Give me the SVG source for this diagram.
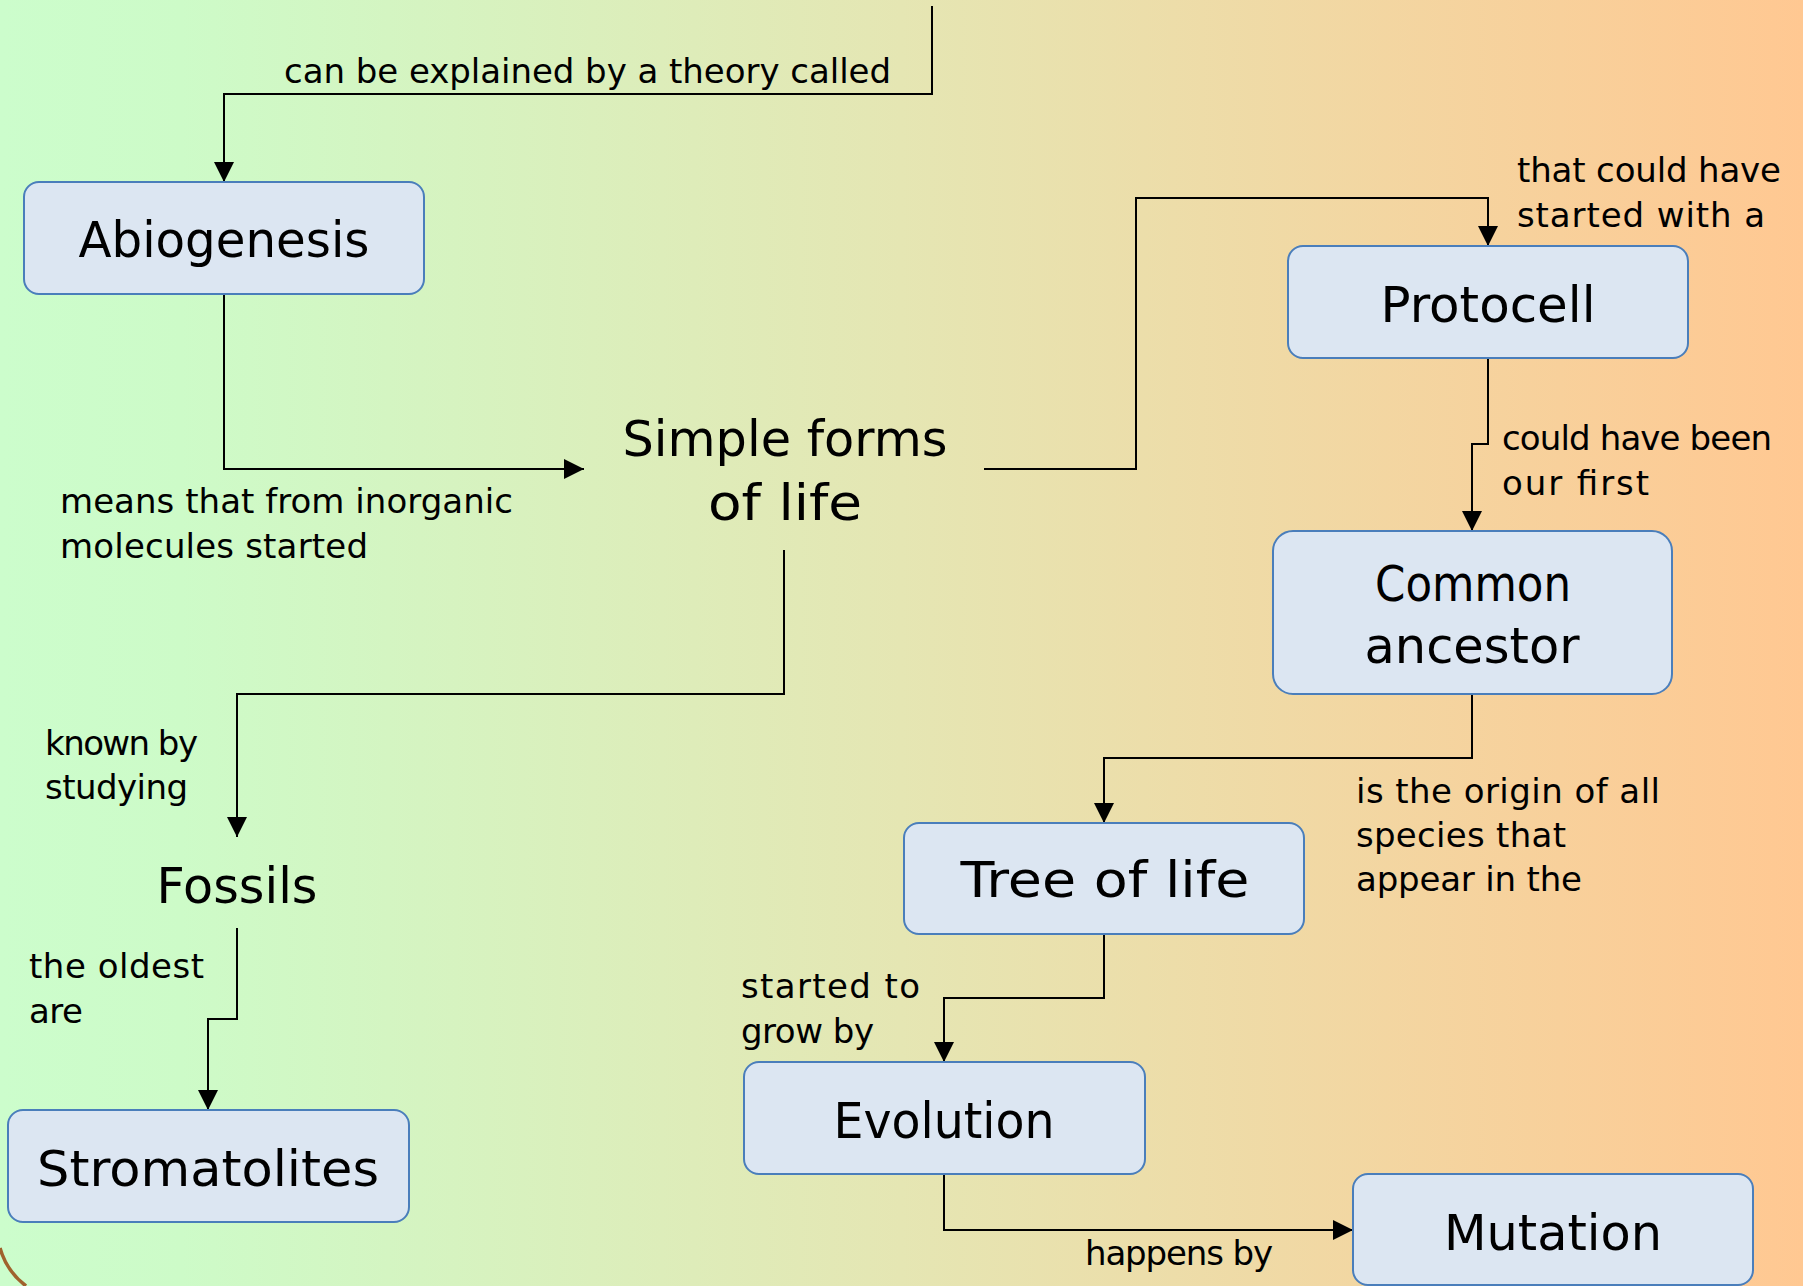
<svg xmlns="http://www.w3.org/2000/svg" width="1803" height="1286" viewBox="0 0 1803 1286">
  <defs>
    <linearGradient id="bg" x1="0" y1="0" x2="1" y2="0">
      <stop offset="0" stop-color="#ccfdcc"/>
      <stop offset="0.1" stop-color="#cdfbc8"/>
      <stop offset="0.5" stop-color="#e5e6b3"/>
      <stop offset="1" stop-color="#ffc892"/>
    </linearGradient>
    <marker id="arr" markerUnits="userSpaceOnUse" markerWidth="20" markerHeight="20" refX="20" refY="10" orient="auto">
      <path d="M0,0 L20,10 L0,20 z" fill="#000"/>
    </marker>
    <style>
      .box { fill: #dce6f2; stroke: #4a7ebb; stroke-width: 2; }
      .nt { font-family: "DejaVu Sans", "Liberation Sans", sans-serif; font-size: 50px; fill: #000; text-anchor: middle; }
      .lb { font-family: "DejaVu Sans", "Liberation Sans", sans-serif; font-size: 34px; fill: #000; }
      .cn { fill: none; stroke: #000; stroke-width: 2; marker-end: url(#arr); }
    </style>
  </defs>
  <rect x="0" y="0" width="1803" height="1286" fill="url(#bg)"/>
  <path d="M0,1248 A 72 72 0 0 0 26 1286" fill="none" stroke="#a0622d" stroke-width="3.5"/>

  <g id="connectors">
    <path class="cn" d="M932,6 V94 H224 V182"/>
    <path class="cn" d="M224,294 V469 H584"/>
    <path class="cn" d="M984,469 H1136 V198 H1488 V246"/>
    <path class="cn" d="M1488,358 V444 H1472 V531"/>
    <path class="cn" d="M1472,694 V758 H1104 V823"/>
    <path class="cn" d="M784,550 V694 H237 V837"/>
    <path class="cn" d="M237,928 V1019 H208 V1110"/>
    <path class="cn" d="M1104,934 V998 H944 V1062"/>
    <path class="cn" d="M944,1174 V1230 H1353"/>
    <text class="lb" x="284" y="83" textLength="607">can be explained by a theory called</text>
    <text class="lb" x="60" y="513" textLength="453">means that from inorganic</text>
    <text class="lb" x="60" y="558" textLength="308">molecules started</text>
    <text class="lb" x="1517" y="182" textLength="264">that could have</text>
    <text class="lb" x="1517" y="227" textLength="248">started with a</text>
    <text class="lb" x="1502" y="450" textLength="270">could have been</text>
    <text class="lb" x="1502" y="495" textLength="147">our first</text>
    <text class="lb" x="1356" y="803" textLength="304">is the origin of all</text>
    <text class="lb" x="1356" y="847" textLength="210">species that</text>
    <text class="lb" x="1356" y="891" textLength="226">appear in the</text>
    <text class="lb" x="45" y="755" textLength="153">known by</text>
    <text class="lb" x="45" y="799" textLength="143">studying</text>
    <text class="lb" x="29" y="978" textLength="175">the oldest</text>
    <text class="lb" x="29" y="1023" textLength="54">are</text>
    <text class="lb" x="741" y="998" textLength="179">started to</text>
    <text class="lb" x="741" y="1043" textLength="133">grow by</text>
    <text class="lb" x="1085" y="1265" textLength="188">happens by</text>
  </g>

  <g id="abiogenesis">
    <rect class="box" x="24" y="182" width="400" height="112" rx="15"/>
    <text class="nt" x="224" y="257" textLength="291" lengthAdjust="spacingAndGlyphs">Abiogenesis</text>
  </g>
  <g id="simple-forms">
    <text class="nt" x="785" y="456" textLength="325" lengthAdjust="spacingAndGlyphs">Simple forms</text>
    <text class="nt" x="785" y="520" textLength="154" lengthAdjust="spacingAndGlyphs">of life</text>
  </g>
  <g id="protocell">
    <rect class="box" x="1288" y="246" width="400" height="112" rx="15"/>
    <text class="nt" x="1488" y="322" textLength="215" lengthAdjust="spacingAndGlyphs">Protocell</text>
  </g>
  <g id="common-ancestor">
    <rect class="box" x="1273" y="531" width="399" height="163" rx="20"/>
    <text class="nt" x="1473" y="601" textLength="196" lengthAdjust="spacingAndGlyphs">Common</text>
    <text class="nt" x="1472" y="663" textLength="215" lengthAdjust="spacingAndGlyphs">ancestor</text>
  </g>
  <g id="tree-of-life">
    <rect class="box" x="904" y="823" width="400" height="111" rx="15"/>
    <text class="nt" x="1105" y="897" textLength="289" lengthAdjust="spacingAndGlyphs">Tree of life</text>
  </g>
  <g id="fossils">
    <text class="nt" x="237" y="903" textLength="161" lengthAdjust="spacingAndGlyphs">Fossils</text>
  </g>
  <g id="stromatolites">
    <rect class="box" x="8" y="1110" width="401" height="112" rx="15"/>
    <text class="nt" x="208" y="1186" textLength="342" lengthAdjust="spacingAndGlyphs">Stromatolites</text>
  </g>
  <g id="evolution">
    <rect class="box" x="744" y="1062" width="401" height="112" rx="15"/>
    <text class="nt" x="944" y="1138" textLength="221" lengthAdjust="spacingAndGlyphs">Evolution</text>
  </g>
  <g id="mutation">
    <rect class="box" x="1353" y="1174" width="400" height="111" rx="15"/>
    <text class="nt" x="1553" y="1250" textLength="218" lengthAdjust="spacingAndGlyphs">Mutation</text>
  </g>
</svg>
